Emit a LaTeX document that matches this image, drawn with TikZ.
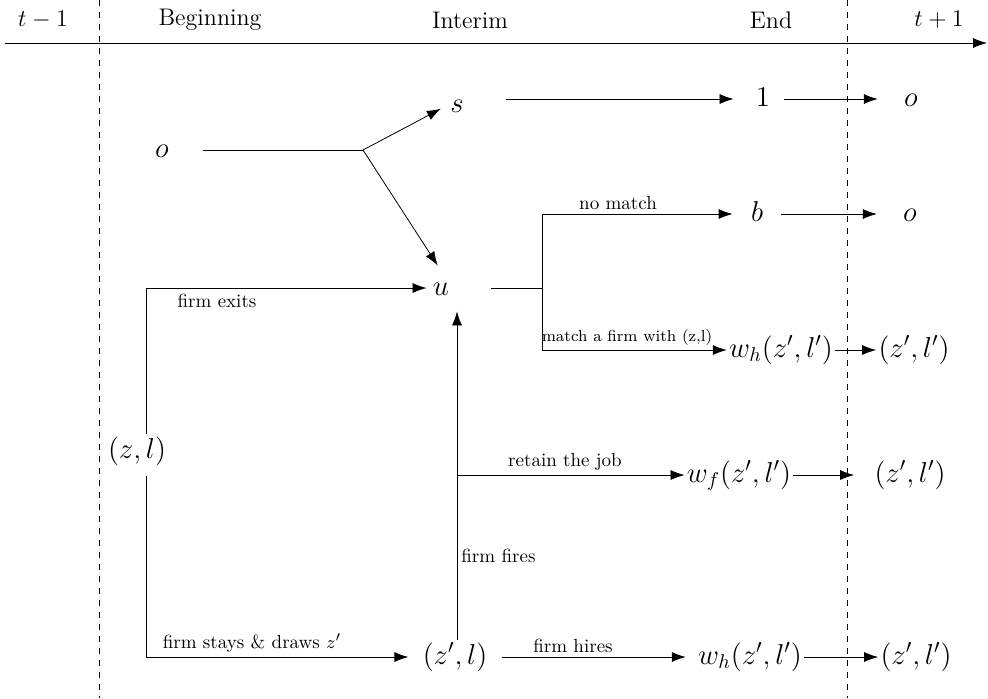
\documentclass[tikz,border=0pt]{standalone}
\usepackage{tikz}
\usetikzlibrary{arrows.meta}

\tikzset{
  state/.style={font=\Large, inner sep=1pt, text height=11pt, text depth=4pt},
  phase/.style={font=\large, inner sep=1pt},
  lbl/.style={font=\fontsize{9.5}{11}\selectfont, inner sep=1pt},
  flow/.style={-{Latex[length=7pt,width=5pt]}},
}

\begin{document}
\begin{tikzpicture}[x=0.5pt,y=-0.5pt]
\useasboundingbox (0,0) rectangle (988,698);

% time line and periods
\coordinate (tl0) at (5,43);
\coordinate (tl1) at (987,43);
\draw[flow] (tl0) -- (tl1);
\coordinate (d1a) at (99,0);
\coordinate (d1b) at (99,698);
\coordinate (d2a) at (847,0);
\coordinate (d2b) at (847,698);
\draw[dashed] (d1a) -- (d1b);
\draw[dashed] (d2a) -- (d2b);

\node[phase] (tm) at (43,20) {$t-1$};
\node[phase] (beg) at (210,20) {Beginning};
\node[phase] (mid) at (470,20) {Interim};
\node[phase] (fin) at (771,20) {End};
\node[phase] (tp) at (939,20) {$t+1$};

% states
\node[state] (o1) at (162,150) {$o$};
\node[state] (s) at (457,105) {$s$};
\node[state] (one) at (763,99) {$1$};
\node[state] (o2) at (911,99) {$o$};
\node[state] (u) at (441,288) {$u$};
\node[state] (b) at (757,214) {$b$};
\node[state] (o3) at (910,214) {$o$};
\node[state] (wh1) at (781,350) {$w_h(z',l')$};
\node[state] (zl1) at (914,350) {$(z',l')$};
\node[state] (zl) at (137,451) {$(z,l)$};
\node[state] (wf) at (739,475) {$w_f(z',l')$};
\node[state] (zl2) at (910,475) {$(z',l')$};
\node[state] (zpl) at (455,657) {$(z',l)$};
\node[state] (wh2) at (750,657) {$w_h(z',l')$};
\node[state] (zl3) at (916,657) {$(z',l')$};

% junctions
\coordinate (jo) at (363,150);
\coordinate (ju) at (542,288);
\coordinate (jnm) at (542,214);
\coordinate (jm) at (542,350);
\coordinate (jx) at (146,288);
\coordinate (js) at (146,657);
\coordinate (jr) at (457,475);

% employed at start
\draw[shorten <=16pt] (o1) -- (jo);
\draw[flow, shorten >=4pt] (jo) -- (s.west);
\draw[flow, shorten >=3pt] (jo) -- (u.north);
\draw[flow, shorten <=20pt, shorten >=10pt] (s.east |- one) -- (one);
\draw[flow, shorten <=6pt, shorten >=12pt] (one) -- (o2);

% unemployed
\draw[shorten <=20pt] (u) -- (ju);
\draw (jnm) -- (jm);
\draw[flow, shorten >=8pt] (jnm) -- (b);
\node[lbl, above] (nm) at (618,212) {no match};
\draw[flow, shorten <=8pt, shorten >=12pt] (b) -- (o3);
\draw[flow] (jm) -- (wh1);
\node[lbl, font=\footnotesize, above] (mf) at (627,348) {match a firm with (z,l)};
\draw[flow] (wh1) -- (zl1);

% firm exits
\draw (zl.north -| jx) -- (jx);
\draw[flow, shorten >=2pt] (jx) -- (u);
\node[lbl, below] (fx) at (217,292) {firm exits};

% firm stays
\draw[shorten <=4pt] (zl.south -| js) -- (js);
\draw[flow, shorten >=6pt] (js) -- (zpl);
\node[lbl, above] (fs) at (252,655) {firm stays \& draws $z'$};

% firm fires
\draw[flow, shorten >=3pt] (zpl.north -| jr) -- (u.south -| jr);
\node[lbl, right] (ff) at (459,556) {firm fires};
\draw[flow] (jr) -- (wf);
\node[lbl, above] (rj) at (565,473) {retain the job};
\draw[flow, shorten >=9pt] (wf) -- (zl2);

% firm hires
\draw[flow, shorten <=6pt, shorten >=5pt] (zpl) -- (wh2);
\node[lbl, above] (fh) at (573,655) {firm hires};
\draw[flow] (wh2) -- (zl3);

\end{tikzpicture}
\end{document}
